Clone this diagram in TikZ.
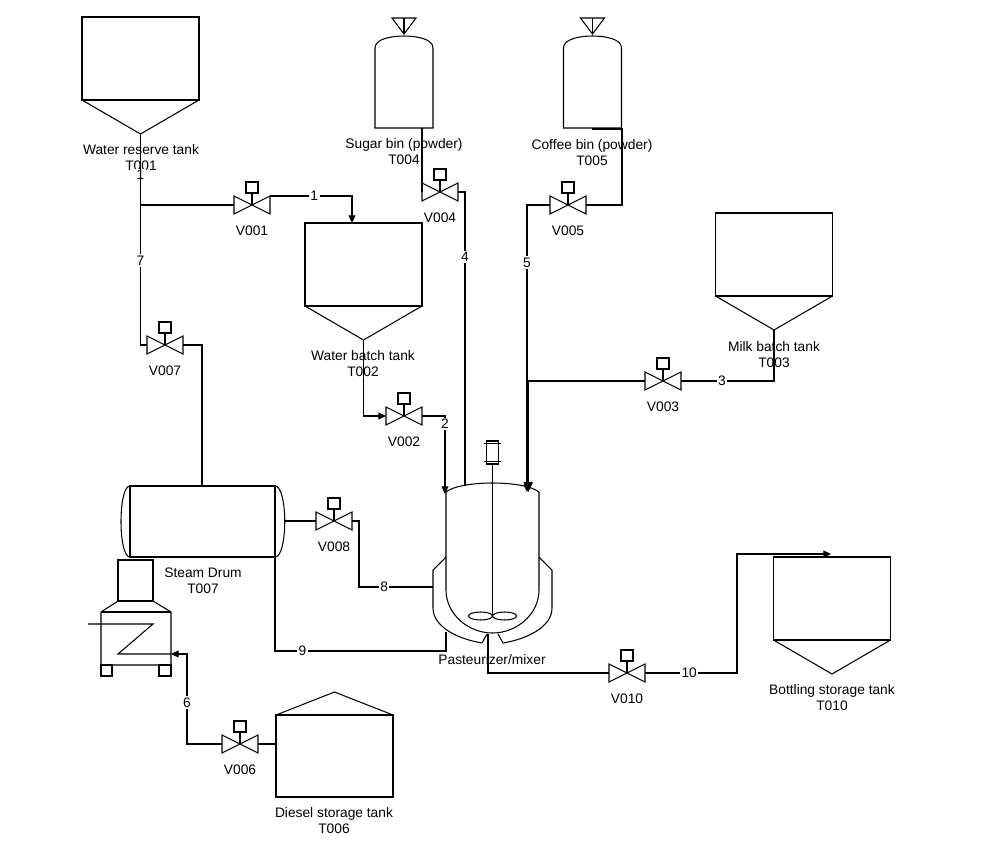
\documentclass[tikz,border=0pt]{standalone}
\usepackage{fontspec}
\setmainfont{Liberation Sans}
\usepackage{tikz}
\usetikzlibrary{arrows.meta}

\newcommand{\pidfont}{\fontsize{9.8pt}{11.4pt}\selectfont}

\tikzset{
  num/.style={fill=white, inner sep=1pt, font=\pidfont},
  tag/.style={align=center, inner sep=0pt, font=\pidfont},
  flow/.style={-{Triangle[length=5.5pt,width=5pt]}},
  pics/valve/.style={code={
    \draw (-18,-9) -- (18,9) -- (18,-9) -- (-18,9) -- cycle;
    \draw (0,0) -- (0,-12);
    \draw (-6,-12) rectangle (6,-23);
    \coordinate (-w) at (-18,0);
    \coordinate (-e) at (18,0);
    \coordinate (-ne) at (18,-9);
    \node[tag] (-lab) at (0,26) {#1};
  }},
  pics/hopper/.style={code={
    \draw (-58.5,0) rectangle (58.5,83);
    \draw (-58.5,83) -- (0,117) -- (58.5,83);
    \coordinate (-out) at (0,117);
  }},
  pics/bin/.style={code={
    \draw (-29,92) -- (-29,12) .. controls (-29,3) and (-13,0) .. (0,0)
          .. controls (13,0) and (29,3) .. (29,12) -- (29,92) -- cycle;
    \draw (-12,-18) -- (12,-18) -- (0,-2) -- cycle;
    \draw (0,-18) -- (0,-2);
  }},
}

\begin{document}
\begin{tikzpicture}[x=0.025cm, y=-0.025cm, line width=0.75pt]
    \useasboundingbox (0,0) rectangle (981,850);

    % tanks and bins
    \pic (t001) at (140.5,17) {hopper};
    \pic (t002) at (363.5,223) {hopper};
    \pic (t003) at (774,213) {hopper};
    \pic (t010) at (832,557) {hopper};
    \pic (t004) at (404,36) {bin};
    \pic (t005) at (592.5,36) {bin};

    % diesel storage tank
    \draw (276,715) rectangle (393,797);
    \draw (276,715) -- (334.5,692) -- (393,715);

    % steam drum
    \draw (130,486) rectangle (275,557);
    \draw (130,486) .. controls (118,486) and (118,557) .. (130,557);
    \draw (275,486) .. controls (288,486) and (288,557) .. (275,557);

    % boiler
    \draw (118,560) rectangle (153,601);
    \draw (118,601) -- (101,612) -- (101,665) -- (171,665) -- (171,612) -- (153,601);
    \draw (101,612) -- (171,612);
    \draw (101,665) rectangle (112,676);
    \draw (159,665) rectangle (171,676);
    \draw (88,624) -- (153,624) -- (118,654) -- (171,654);

    % pasteurizer/mixer
    \draw (446,492) .. controls (461,480) and (524,480) .. (539,492);
    \draw (446,492) -- (446,590) .. controls (446,614) and (468,633) .. (492.5,633)
          .. controls (517,633) and (539,614) .. (539,590) -- (539,492);
    \draw (446,557) -- (433,570) -- (433,608) .. controls (433,627) and (458,639) .. (482,643) -- (487,634);
    \draw (539,557) -- (552,570) -- (552,608) .. controls (552,627) and (527,639) .. (503,643) -- (498,634);
    \draw (486.5,441) rectangle (498.5,464);
    \draw (484,443.5) -- (501,443.5) (484,461.5) -- (501,461.5);
    \draw (492.5,464) -- (492.5,616);
    \draw (480.5,616) ellipse [x radius=12, y radius=4];
    \draw (504.5,616) ellipse [x radius=12, y radius=4];

    % valves
    \pic (v001) at (252,205) {valve=V001};
    \pic (v002) at (404,416) {valve=V002};
    \pic (v003) at (663,381) {valve=V003};
    \pic (v004) at (440,192) {valve=V004};
    \pic (v005) at (568,205) {valve=V005};
    \pic (v006) at (240,744) {valve=V006};
    \pic (v007) at (165,345) {valve=V007};
    \pic (v008) at (334,521) {valve=V008};
    \pic (v010) at (627,673) {valve=V010};

    % equipment labels
    \node[tag] (t001-lab) at (141,158) {Water reserve tank\\T001};
    \node[tag] (t002-lab) at (363,364) {Water batch tank\\T002};
    \node[tag] (t003-lab) at (774,355) {Milk batch tank\\T003};
    \node[tag] (t004-lab) at (404,152) {Sugar bin (powder)\\T004};
    \node[tag] (t005-lab) at (592,153) {Coffee bin (powder)\\T005};
    \node[tag] (t006-lab) at (334,821) {Diesel storage tank\\T006};
    \node[tag] (t007-lab) at (203,581) {Steam Drum\\T007};
    \node[tag] (t010-lab) at (832,698) {Bottling storage tank\\T010};
    \node[tag] (mix-lab) at (492,660) {Pasteurizer/mixer};

    % nozzles
    \coordinate (t002-in) at (352,223);
    \coordinate (t004-out) at (422,128);
    \coordinate (t005-out) at (592,129);
    \coordinate (t006-in) at (276,744);
    \coordinate (t007-top) at (202,486);
    \coordinate (t007-east) at (285,521);
    \coordinate (t007-se) at (275,557);
    \coordinate (boil-in) at (171,654);
    \coordinate (mix-in2) at (445,494);
    \coordinate (mix-in4) at (465,486);
    \coordinate (mix-in5) at (527,492);
    \coordinate (mix-in3) at (528.3,492);
    \coordinate (mix-jk8) at (433,587);
    \coordinate (mix-jk9) at (446,632);
    \coordinate (mix-out) at (488,634);
    \coordinate (t010-in) at (831,554);
    \coordinate (j6) at (187,654);
    \coordinate (j9) at (446,651);
    \coordinate (j10) at (737,554);

    % lines
    \draw (t001-out) -- node[num,pos=0.58] {1} (t001-out |- v001-w) -- (v001-w);
    \draw[flow] (v001-ne) -| node[num,pos=0.27] {1} (t002-in);
    \draw[flow] (t002-out) |- (v002-w);
    \draw[flow] (v002-e) -| node[num,pos=0.55] {2} (mix-in2);
    \draw (t003-out) |- node[num,pos=0.78] {3} (v003-e);
    \draw[-{Triangle[length=7pt,width=6.5pt]}] (v003-w) -| (mix-in3);
    \draw (t004-out) -- (v004-w);
    \draw (v004-e) -| node[num,pos=0.61] {4} (mix-in4);
    \draw (t005-out) -- ++(30,0) |- (v005-e);
    \draw[flow] (v005-w) -| node[num,pos=0.6] {5} (mix-in5);
    \draw (t006-in) -- (v006-e);
    \draw[flow] (v006-w) -| node[num,pos=0.73] {6} (j6) -- (boil-in);
    \draw (t001-out) |- node[num,pos=0.3] {7} (v007-w);
    \draw (v007-e) -| (t007-top);
    \draw (t007-east) -- (v008-w);
    \draw (v008-e) -- ++(7,0) |- node[num,pos=0.67] {8} (mix-jk8);
    \draw (t007-se) |- node[num,pos=0.58] {9} (j9) -- (mix-jk9);
    \draw (mix-out) |- (v010-w);
    \draw[flow] (v010-e) -| node[num,pos=0.24] {10} (j10) -- (t010-in);
\end{tikzpicture}
\end{document}
